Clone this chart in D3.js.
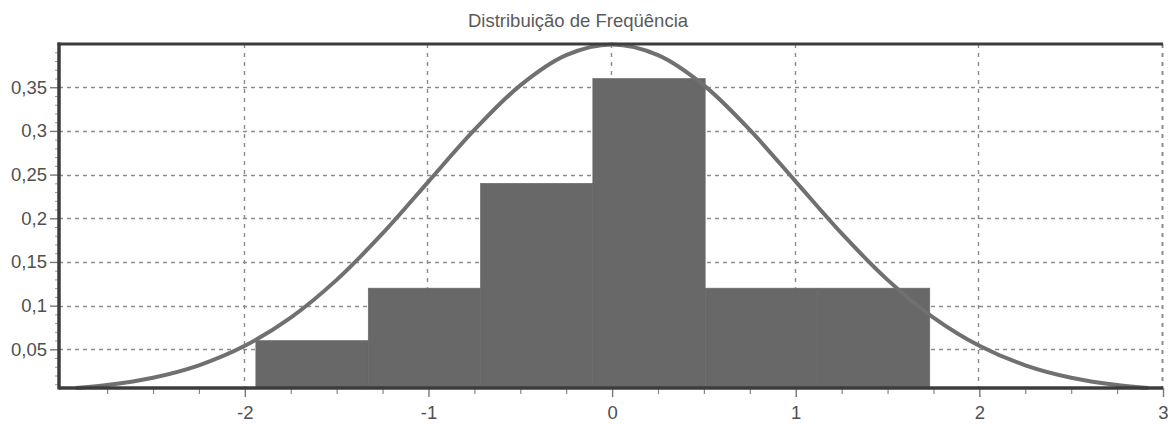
<!DOCTYPE html>
<html>
<head>
<meta charset="utf-8">
<script src="https://cdn.jsdelivr.net/npm/d3@7"></script>
<style>
  body { margin: 0; background: #fff; }
  text { font-family: "Liberation Sans", Arial, sans-serif; fill: #555; }
</style>
</head>
<body>
<div id="chart"></div>
<script>
// Data
const title = "Distribuição de Freqüência"
const binEdges = [-1.94, -1.328, -0.717, -0.105, 0.507, 1.118, 1.73]
const binHeights = [0.06, 0.12, 0.24, 0.36, 0.12, 0.12]
const curveX = [-2.92, -2.75, -2.5, -2.25, -2, -1.75, -1.5, -1.25, -1, -0.75, -0.5, -0.25, 0,
                0.25, 0.5, 0.75, 1, 1.25, 1.5, 1.75, 2, 2.25, 2.5, 2.75, 2.92]
const curveY = [0.0057, 0.0091, 0.0175, 0.0317, 0.054, 0.0863, 0.1295, 0.1826, 0.242, 0.3011, 0.3521, 0.3867, 0.3989,
                0.3867, 0.3521, 0.3011, 0.242, 0.1826, 0.1295, 0.0863, 0.054, 0.0317, 0.0175, 0.0091, 0.0057]
const xTicks = [-2, -1, 0, 1, 2, 3]
const yTicks = [0.05, 0.1, 0.15, 0.2, 0.25, 0.3, 0.35]

const bars = binHeights.map((h, i) => ({x0: binEdges[i], x1: binEdges[i + 1], h: h}))
const curve = curveX.map((x, i) => ({x: x, y: curveY[i]}))

// Dimensions
const W = 1173, H = 424
const plotLeft = 59, plotRight = 1163, plotTop = 44, plotBottom = 388

const svg = d3.select('#chart')
    .append('svg')
    .attr('width', W)
    .attr('height', H)

// Scales
const x = d3.scaleLinear().domain([-3.012, 3]).range([plotLeft, plotRight])
const y = d3.scaleLinear().domain([0.0057, 0.3995]).range([plotBottom, plotTop])

const fmt = d => String(d).replace('.', ',')

// Grid
svg.append('g')
    .selectAll('line')
    .data(yTicks)
    .enter()
    .append('line')
    .attr('x1', plotLeft).attr('x2', plotRight)
    .attr('y1', d => Math.round(y(d)) + 0.5).attr('y2', d => Math.round(y(d)) + 0.5)
    .attr('stroke', '#8c8c8c')
    .attr('stroke-width', 1.4)
    .attr('stroke-dasharray', '4,4')

svg.append('g')
    .selectAll('line')
    .data(xTicks)
    .enter()
    .append('line')
    .attr('x1', d => Math.round(x(d)) - 0.5).attr('x2', d => Math.round(x(d)) - 0.5)
    .attr('y1', plotTop).attr('y2', plotBottom)
    .attr('stroke', '#8c8c8c')
    .attr('stroke-width', d => d === 3 ? 2 : 1.4)
    .attr('stroke-dasharray', '4,5')

// Bars
svg.append('g')
    .selectAll('rect')
    .data(bars)
    .enter()
    .append('rect')
    .attr('x', d => x(d.x0))
    .attr('y', d => y(d.h))
    .attr('width', d => x(d.x1) - x(d.x0))
    .attr('height', d => plotBottom - y(d.h))
    .attr('fill', '#686868')
    .attr('stroke', '#686868')
    .attr('stroke-width', 0.6)

// Normal curve
svg.append('path')
    .datum(curve)
    .attr('fill', 'none')
    .attr('stroke', '#707070')
    .attr('stroke-width', 4)
    .attr('d', d3.line().x(d => x(d.x)).y(d => y(d.y)).curve(d3.curveCatmullRom))

// X axis ticks
const xMinor = d3.range(-2.75, 3.01, 0.25).filter(v => Math.abs(v - Math.round(v)) > 0.01)
const xAxisG = svg.append('g')
    .attr('transform', 'translate(0,' + plotBottom + ')')
    .call(d3.axisBottom(x).tickValues(xTicks).tickSize(9).tickPadding(9).tickFormat(fmt))
xAxisG.select('.domain').remove()
xAxisG.selectAll('line').attr('stroke', '#777').attr('stroke-width', 1.4)
xAxisG.selectAll('text').attr('font-size', 18.5).style('fill', '#505050')

const xMinorG = svg.append('g')
    .attr('transform', 'translate(0,' + plotBottom + ')')
    .call(d3.axisBottom(x).tickValues(xMinor).tickSize(6).tickFormat(''))
xMinorG.select('.domain').remove()
xMinorG.selectAll('line').attr('stroke', '#888').attr('stroke-width', 1.2)

// Y axis ticks
const yMinor = d3.range(0.01, 0.391, 0.01).filter(v => Math.abs(v * 20 - Math.round(v * 20)) > 0.01)
const yAxisG = svg.append('g')
    .attr('transform', 'translate(' + plotLeft + ',0)')
    .call(d3.axisLeft(y).tickValues(yTicks).tickSize(9).tickPadding(3).tickFormat(fmt))
yAxisG.select('.domain').remove()
yAxisG.selectAll('line').attr('stroke', '#777').attr('stroke-width', 1.4)
yAxisG.selectAll('text').attr('font-size', 18.5).style('fill', '#505050')

const yMinorG = svg.append('g')
    .attr('transform', 'translate(' + plotLeft + ',0)')
    .call(d3.axisLeft(y).tickValues(yMinor).tickSize(4).tickFormat(''))
yMinorG.select('.domain').remove()
yMinorG.selectAll('line').attr('stroke', '#999').attr('stroke-width', 1)

// Frame
svg.append('line')
    .attr('x1', plotLeft - 1.5).attr('x2', plotRight)
    .attr('y1', plotTop).attr('y2', plotTop)
    .attr('stroke', '#3c3c3c').attr('stroke-width', 3)
svg.append('line')
    .attr('x1', plotLeft).attr('x2', plotLeft)
    .attr('y1', plotTop - 1.5).attr('y2', plotBottom + 1.5)
    .attr('stroke', '#3c3c3c').attr('stroke-width', 3.5)
svg.append('line')
    .attr('x1', plotLeft).attr('x2', plotRight)
    .attr('y1', plotBottom).attr('y2', plotBottom)
    .attr('stroke', '#3c3c3c').attr('stroke-width', 3.5)

// Title
svg.append('text')
    .attr('x', 578)
    .attr('y', 27)
    .attr('text-anchor', 'middle')
    .attr('font-size', 18.5)
    .style('fill', '#5a5a5a')
    .text(title)
</script>
</body>
</html>
